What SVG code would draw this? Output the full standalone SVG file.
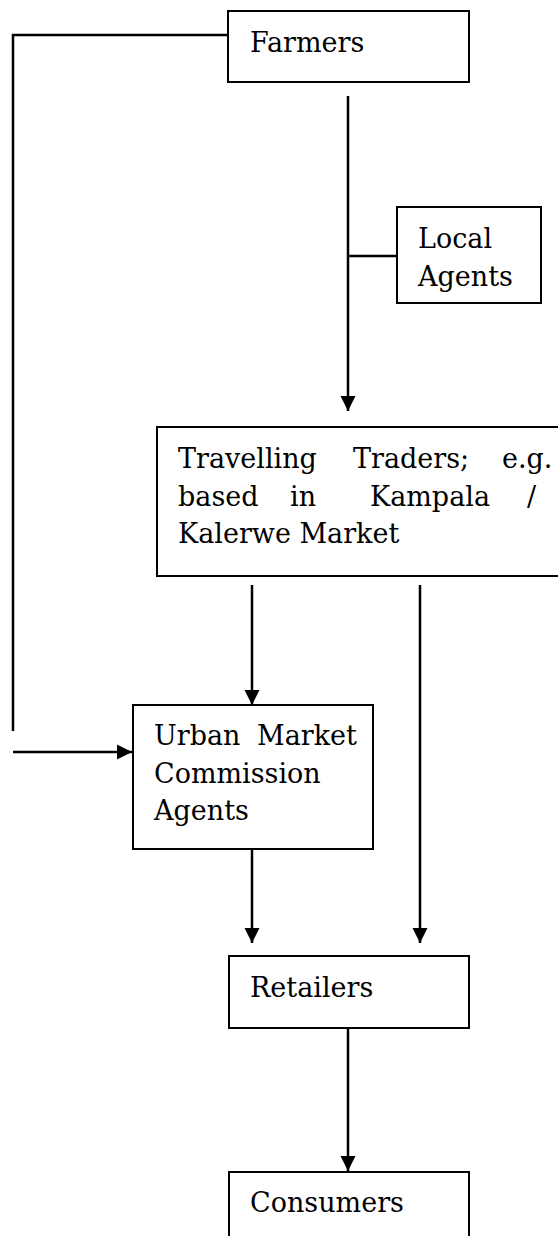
<svg xmlns="http://www.w3.org/2000/svg" width="558" height="1236" viewBox="0 0 558 1236">
<style>
.box{fill:#fff;stroke:#000;stroke-width:2}
.t{font-family:"DejaVu Serif","Liberation Serif",serif;font-size:27px;fill:#000}
.c{fill:none;stroke:#000;stroke-width:2.5}
</style>
<defs>
<marker id="ah" markerUnits="userSpaceOnUse" markerWidth="16" markerHeight="16" refX="15" refY="8" orient="auto">
<path d="M0,0.5 L15,8 L0,15.5 z" fill="#000"/>
</marker>
</defs>
<rect width="558" height="1236" fill="#fff"/>
<g id="connectors">
<polyline class="c" points="228,35 13,35 13,731"/>
<line class="c" x1="13" y1="752" x2="132" y2="752" marker-end="url(#ah)"/>
<line class="c" x1="348" y1="96" x2="348" y2="411" marker-end="url(#ah)"/>
<line class="c" x1="348" y1="256" x2="397" y2="256"/>
<line class="c" x1="252" y1="585" x2="252" y2="705" marker-end="url(#ah)"/>
<line class="c" x1="420" y1="585" x2="420" y2="943" marker-end="url(#ah)"/>
<line class="c" x1="252" y1="849" x2="252" y2="943" marker-end="url(#ah)"/>
<line class="c" x1="348" y1="1028" x2="348" y2="1171" marker-end="url(#ah)"/>
</g>
<g id="farmers">
<rect class="box" x="228" y="11" width="241" height="71"/>
<text class="t" x="250" y="52">Farmers</text>
</g>
<g id="local-agents">
<rect class="box" x="397" y="207" width="144" height="96"/>
<text class="t" x="418" y="248">Local</text>
<text class="t" x="418" y="286">Agents</text>
</g>
<g id="travelling-traders">
<rect class="box" x="157" y="427" width="460" height="149"/>
<text class="t" y="468"><tspan x="178">Travelling</tspan><tspan x="353">Traders;</tspan><tspan x="502">e.g.</tspan></text>
<text class="t" y="506"><tspan x="178">based</tspan><tspan x="290">in</tspan><tspan x="370">Kampala</tspan><tspan x="527">/</tspan></text>
<text class="t" x="178" y="543">Kalerwe Market</text>
</g>
<g id="urban-market">
<rect class="box" x="133" y="705" width="240" height="144"/>
<text class="t" y="745"><tspan x="154">Urban</tspan><tspan x="257">Market</tspan></text>
<text class="t" x="154" y="783">Commission</text>
<text class="t" x="154" y="820">Agents</text>
</g>
<g id="retailers">
<rect class="box" x="229" y="956" width="240" height="72"/>
<text class="t" x="250" y="997">Retailers</text>
</g>
<g id="consumers">
<rect class="box" x="229" y="1172" width="240" height="80"/>
<text class="t" x="250" y="1212">Consumers</text>
</g>
</svg>
